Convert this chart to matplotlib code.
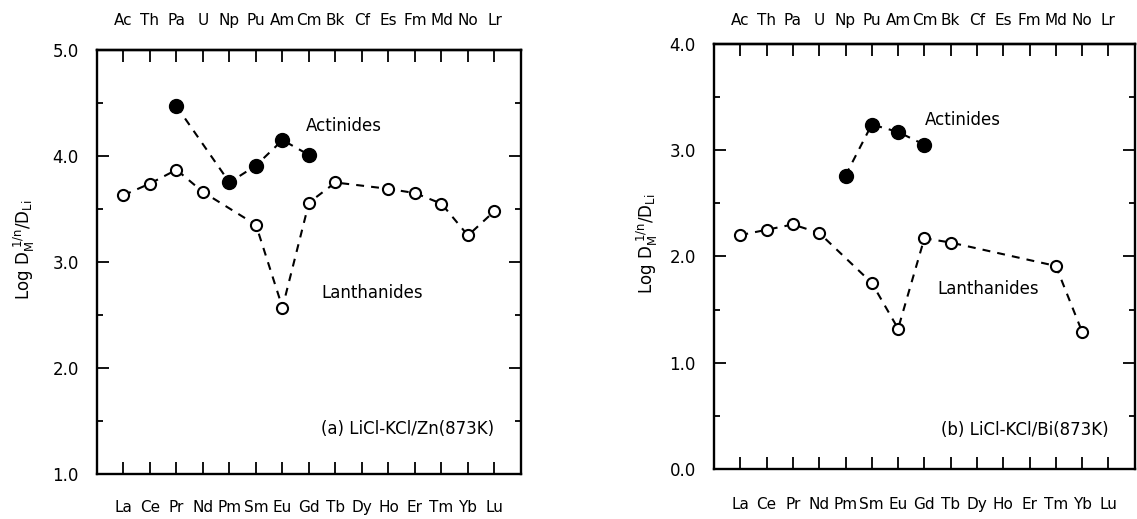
import numpy as np
import matplotlib
matplotlib.use("Agg")
import matplotlib.pyplot as plt
from matplotlib.ticker import MultipleLocator

# element labels on the two x axes
lanthanides = ["La", "Ce", "Pr", "Nd", "Pm", "Sm", "Eu", "Gd", "Tb", "Dy", "Ho", "Er", "Tm", "Yb", "Lu"]
actinides = ["Ac", "Th", "Pa", "U", "Np", "Pu", "Am", "Cm", "Bk", "Cf", "Es", "Fm", "Md", "No", "Lr"]

# (a) LiCl-KCl/Zn(873K)
zn_ln_el = ["La", "Ce", "Pr", "Nd", "Sm", "Eu", "Gd", "Tb", "Ho", "Er", "Tm", "Yb", "Lu"]
zn_ln_val = [3.63, 3.74, 3.87, 3.66, 3.35, 2.57, 3.56, 3.75, 3.69, 3.65, 3.55, 3.25, 3.48]
zn_an_el = ["Pa", "Np", "Pu", "Am", "Cm"]
zn_an_val = [4.47, 3.75, 3.91, 4.15, 4.01]

# (b) LiCl-KCl/Bi(873K)
bi_ln_el = ["La", "Ce", "Pr", "Nd", "Sm", "Eu", "Gd", "Tb", "Tm", "Yb"]
bi_ln_val = [2.20, 2.25, 2.30, 2.22, 1.75, 1.32, 2.17, 2.13, 1.91, 1.29]
bi_an_el = ["Np", "Pu", "Am", "Cm"]
bi_an_val = [2.76, 3.24, 3.17, 3.05]

ylabel = r'Log D$_{\mathregular{M}}^{\ \mathregular{1/n}}$/D$_{\mathregular{Li}}$'

fig = plt.figure(figsize=(11.37, 5.19), dpi=100)
ax_a = fig.add_axes([0.0853, 0.0867, 0.3729, 0.817])
ax_b = fig.add_axes([0.628, 0.0963, 0.370, 0.8195])


def draw_panel(ax, ln_el, ln_val, an_el, an_val, ylim, label, act_xy, lan_xy,
               top_pad, bot_pad, ylab_x):
    xpos = np.arange(len(lanthanides))
    x_ln = [lanthanides.index(e) for e in ln_el]
    x_an = [actinides.index(e) for e in an_el]

    ax.plot(x_ln, ln_val, color="black", lw=1.5, ls=(0, (3.8, 3.4)),
            marker="o", ms=8, mfc="white", mec="black", mew=1.5)
    ax.plot(x_an, an_val, color="black", lw=1.5, ls=(0, (3.8, 3.4)),
            marker="o", ms=10, mfc="black", mec="black")

    ax.set_xlim(-1, 15)
    ax.set_ylim(*ylim)
    for s in ax.spines.values():
        s.set_linewidth(1.7)

    ax.set_xticks(xpos, lanthanides)
    ax.yaxis.set_major_locator(MultipleLocator(1.0))
    ax.yaxis.set_minor_locator(MultipleLocator(0.5))
    ax.yaxis.set_major_formatter(matplotlib.ticker.FormatStrFormatter("%.1f"))
    ax.tick_params(axis="y", which="major", direction="in", length=8.5, width=1.3,
                   right=True, labelsize=12, pad=13)
    ax.tick_params(axis="y", which="minor", direction="in", length=4, width=1.3,
                   right=True)
    ax.tick_params(axis="x", direction="in", length=8.5, width=1.3,
                   labelsize=11, pad=bot_pad)

    top = ax.secondary_xaxis("top")
    top.set_xticks(xpos, actinides)
    top.tick_params(direction="in", length=8.5, width=1.3, labelsize=11, pad=top_pad)
    top.spines["top"].set_linewidth(1.7)

    ax.set_ylabel(ylabel, fontsize=12)
    ax.yaxis.set_label_coords(ylab_x, 0.53)

    ax.text(act_xy[0], act_xy[1], "Actinides", fontsize=12, va="center", ha="left")
    ax.text(lan_xy[0], lan_xy[1], "Lanthanides", fontsize=12, va="center", ha="left")
    ax.text(14.0, label[1], label[0], fontsize=12, va="center", ha="right")


draw_panel(ax_a, zn_ln_el, zn_ln_val, zn_an_el, zn_an_val, (1.0, 5.0),
           ("(a) LiCl-KCl/Zn(873K)", 1.42), (6.9, 4.28), (7.45, 2.71),
           top_pad=16, bot_pad=19, ylab_x=-0.142)
draw_panel(ax_b, bi_ln_el, bi_ln_val, bi_an_el, bi_an_val, (0.0, 4.0),
           ("(b) LiCl-KCl/Bi(873K)", 0.37), (7.0, 3.28), (7.5, 1.69),
           top_pad=11, bot_pad=20, ylab_x=-0.128)

fig.savefig("out.png", dpi=100)
